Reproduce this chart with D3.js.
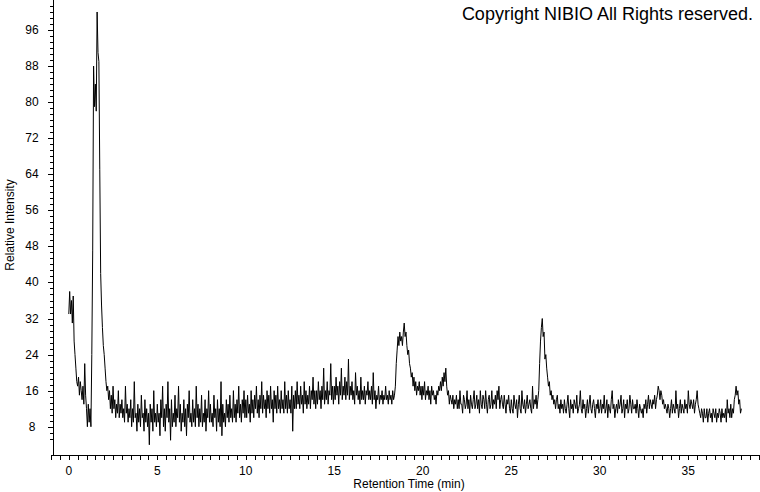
<!DOCTYPE html>
<html>
<head>
<meta charset="utf-8">
<script src="https://cdn.jsdelivr.net/npm/d3@7"></script>
<style>
  body { margin: 0; background: #fff; }
  svg { display: block; font-family: "Liberation Sans", Arial, sans-serif; }
</style>
</head>
<body>
<svg class="chrom" width="760" height="492"></svg>
<script>
let timeStart = 0;
let timeStep = 0.05;
let intensity = [
  33,38,33,36,31,37,27,24,21,18,17,19,15,18,16,14,17,13,22,15,
  12,8,13,9,12,8,24,47,88,79,84,78,100,91,89,65,42,35,30,26,
  24,21,18,16,17,14,16,12,15,11,17,12,14,10,13,11,16,10,13,11,
  14,10,12,9,17,11,13,9,12,10,14,8,12,9,18,10,11,7,13,9,
  12,8,15,10,11,7,14,9,12,8,11,4,13,9,12,7,16,9,11,8,
  13,9,11,6,14,10,17,8,12,7,13,10,18,9,12,5,14,8,11,9,
  15,8,12,10,17,9,13,7,11,9,14,8,12,6,13,10,16,9,11,8,
  14,9,12,8,17,10,13,8,12,9,15,8,11,9,14,7,12,10,16,9,
  13,9,11,8,15,10,12,7,14,9,12,8,18,6,13,9,11,8,14,10,
  13,9,15,10,12,9,16,10,13,9,14,11,17,10,13,9,14,11,16,10,
  14,10,15,11,13,9,16,11,14,10,15,12,17,11,14,10,15,12,18,11,
  15,12,14,10,16,12,15,11,17,12,14,9,16,12,15,11,17,12,14,11,
  16,12,14,11,18,12,15,11,16,12,14,11,17,7,15,12,16,12,18,13,
  15,12,17,13,15,11,18,13,16,12,15,13,17,12,16,14,19,13,16,12,
  16,13,18,14,16,12,17,14,21,13,16,14,18,13,16,15,22,14,17,13,
  17,14,19,15,17,13,18,15,21,14,17,15,19,14,18,15,23,14,17,15,
  18,14,16,13,20,15,17,14,16,13,19,14,16,14,17,13,16,15,18,14,
  16,14,17,13,20,14,16,12,15,14,17,13,15,14,16,13,15,14,17,14,
  15,13,16,14,15,13,16,14,15,17,22,25,28,26,29,27,28,26,29,31,
  28,29,26,24,25,22,21,19,20,17,19,16,18,15,17,16,18,15,17,14,
  17,15,18,14,16,15,17,14,16,13,17,15,16,14,15,13,16,15,17,16,
  18,16,19,17,20,18,21,17,15,16,13,15,14,13,15,12,14,13,15,12,
  14,12,16,13,13,11,15,14,12,13,16,12,14,11,15,13,12,14,16,12,
  13,15,12,14,11,16,13,12,15,14,12,16,13,11,14,15,12,13,16,12,
  14,13,15,12,16,14,17,12,14,15,13,12,15,13,11,14,13,15,12,11,
  14,12,11,15,13,12,14,10,13,15,12,11,16,13,12,14,11,13,15,12,
  13,14,12,11,17,12,14,13,15,12,14,16,22,27,30,32,28,29,23,24,
  21,19,17,18,15,16,14,15,13,14,12,14,15,12,13,11,14,12,13,11,
  14,12,11,13,15,12,10,14,12,13,11,14,13,12,15,11,12,13,16,12,
  11,14,12,13,10,12,14,11,13,15,12,11,13,14,12,10,13,12,14,11,
  12,14,11,13,12,15,11,12,14,10,13,12,11,14,16,12,13,10,12,13,
  11,14,12,13,15,11,12,14,10,13,12,14,11,12,15,13,11,14,12,12,
  13,11,14,12,10,13,12,11,12,10,13,12,14,11,13,15,12,14,13,12,
  14,13,15,12,14,15,17,16,14,16,15,13,14,12,13,12,11,13,12,10,
  12,14,11,13,12,11,16,12,13,10,12,14,11,13,12,11,14,12,13,11,
  16,13,12,14,13,12,14,11,13,14,16,13,12,11,10,12,11,9,12,10,
  10,12,9,11,12,10,11,9,12,11,10,12,9,11,10,12,11,9,12,10,
  11,10,12,9,14,11,12,10,13,10,12,11,14,15,17,15,16,13,14,11,
  12
];

// axis labels
let xLabelTicks = [0, 5, 10, 15, 20, 25, 30, 35];
let yLabelTicks = [8, 16, 24, 32, 40, 48, 56, 64, 72, 80, 88, 96];
let xTitle = 'Retention Time (min)';
let yTitle = 'Relative Intensity';
let copyright = 'Copyright NIBIO All Rights reserved.';

// layout
let axisLeft = 53;
let axisBottom = 455;

let x = d3.scaleLinear().domain([-1, 39]).range([51.1, 759.1]);
let y = d3.scaleLinear().domain([1.73, 102.66]).range([axisBottom, 0]);

let svg = d3.select('svg.chrom');

// minor tick positions: x every 0.5 min, y every 4/3 units (6 per label step)
let xMinor = d3.range(-2, 79).map(i => i * 0.5).filter(t => t >= -1 && t <= 39);
let yMinor = d3.range(-2, 80).map(i => 8 + i * 4 / 3).filter(v => v >= 1.73 && v <= 102.66);

let g = svg.append('g').attr('shape-rendering', 'crispEdges');

// x axis
g.append('line')
  .attr('x1', 51).attr('x2', 760)
  .attr('y1', axisBottom + 0.5).attr('y2', axisBottom + 0.5)
  .attr('stroke', '#000');
g.selectAll('line.xtick')
  .data(xMinor)
  .enter()
  .append('line')
  .classed('xtick', true)
  .attr('x1', d => Math.round(x(d)) + 0.5)
  .attr('x2', d => Math.round(x(d)) + 0.5)
  .attr('y1', axisBottom)
  .attr('y2', axisBottom + 5)
  .attr('stroke', '#000');
svg.selectAll('text.xlab')
  .data(xLabelTicks)
  .enter()
  .append('text')
  .classed('xlab', true)
  .attr('x', d => x(d))
  .attr('y', 475)
  .attr('text-anchor', 'middle')
  .style('font-size', '12px')
  .text(d => d);

// y axis
g.append('line')
  .attr('x1', axisLeft + 0.5).attr('x2', axisLeft + 0.5)
  .attr('y1', 0).attr('y2', axisBottom + 1)
  .attr('stroke', '#000');
g.selectAll('line.ytick')
  .data(yMinor)
  .enter()
  .append('line')
  .classed('ytick', true)
  .attr('x1', d => yLabelTicks.includes(Math.round(d * 1000) / 1000) ? axisLeft - 5 : axisLeft - 3)
  .attr('x2', axisLeft)
  .attr('y1', d => Math.round(y(d)) + 0.5)
  .attr('y2', d => Math.round(y(d)) + 0.5)
  .attr('stroke', '#000');
svg.selectAll('text.ylab')
  .data(yLabelTicks)
  .enter()
  .append('text')
  .classed('ylab', true)
  .attr('x', 32)
  .attr('y', d => y(d) + 4)
  .attr('text-anchor', 'middle')
  .style('font-size', '12px')
  .text(d => d);

// titles
svg.append('text')
  .attr('x', 409)
  .attr('y', 488)
  .attr('text-anchor', 'middle')
  .style('font-size', '12px')
  .text(xTitle);

svg.append('text')
  .attr('transform', 'translate(14,225) rotate(-90)')
  .attr('text-anchor', 'middle')
  .style('font-size', '12px')
  .text(yTitle);

svg.append('text')
  .attr('x', 753)
  .attr('y', 20)
  .attr('text-anchor', 'end')
  .style('font-size', '18px')
  .text(copyright);

// the trace
svg.append('defs')
  .append('clipPath')
  .attr('id', 'plotArea')
  .append('rect')
  .attr('x', axisLeft + 1).attr('y', 0)
  .attr('width', 760 - axisLeft).attr('height', axisBottom);

let trace = d3.line()
  .x((d, i) => x(timeStart + i * timeStep))
  .y(d => y(d));

svg.append('path')
  .datum(intensity)
  .attr('clip-path', 'url(#plotArea)')
  .attr('d', trace)
  .attr('fill', 'none')
  .attr('stroke', '#000')
  .attr('stroke-width', 1);
</script>
</body>
</html>
